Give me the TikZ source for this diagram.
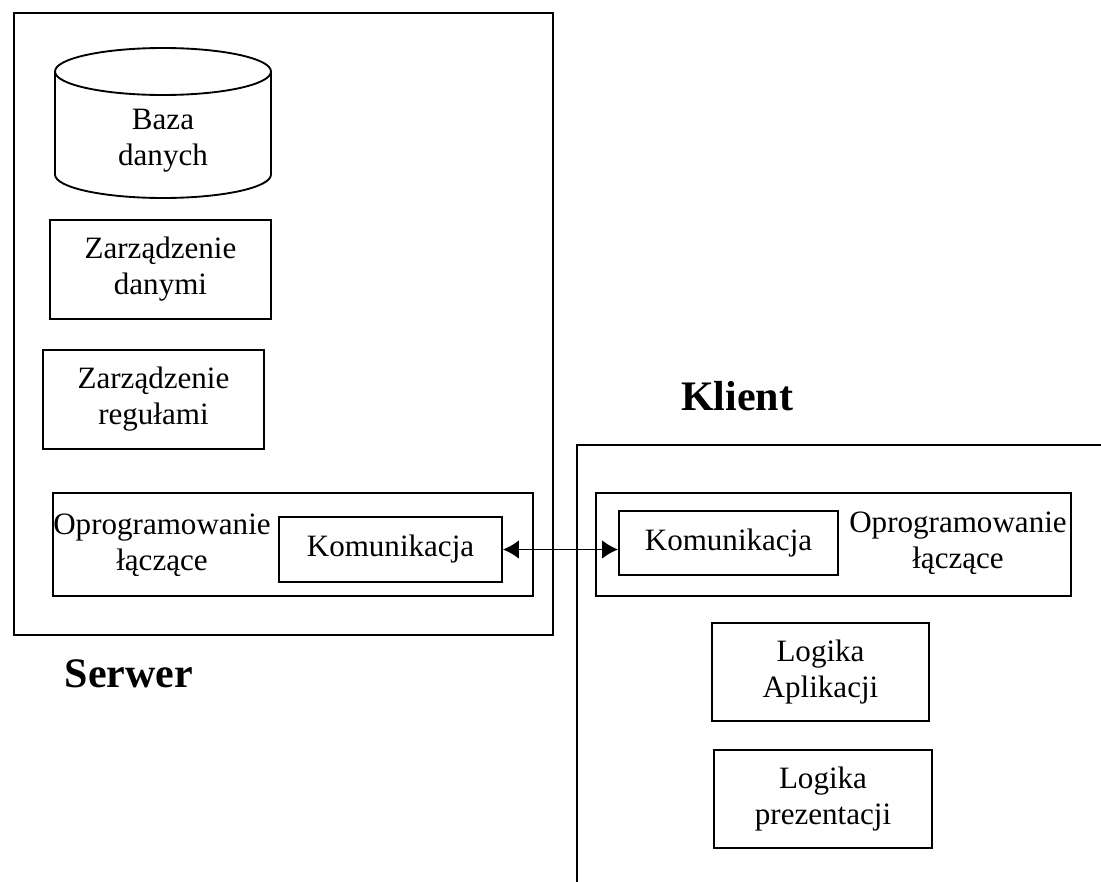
\documentclass[tikz,border=0pt]{standalone}
\usepackage{fontspec}
\setmainfont{Liberation Serif}
\usetikzlibrary{arrows.meta}

\begin{document}
\begin{tikzpicture}[
        x=0.75pt, y=-0.75pt, % 1 jednostka = 1 piksel obrazu
        line width=1.4pt,
        >={Latex[length=12pt,width=14pt]},
        blok/.style={draw, rectangle, inner sep=0pt, align=center,
            font=\fontsize{23.3}{27}\selectfont}, % Prostokaty z tekstem
        ramka/.style={draw, rectangle, inner sep=0pt},
        opis/.style={align=center, inner sep=0pt, font=\fontsize{23.3}{27}\selectfont},
        napis/.style={font=\fontsize{31.5}{36}\selectfont\bfseries, inner sep=0pt},
    ]
    \useasboundingbox (0,0) rectangle (1101,882);

    % Serwer
    \node[ramka, minimum width=539*0.75pt, minimum height=622*0.75pt] (serwer) at (283.5,324) {};
    % baza danych - walec
    \draw (163,71.5) ellipse [x radius=108, y radius=23.5];
    \draw (55,71.5) -- (55,174.5) arc[start angle=180, end angle=0, x radius=108, y radius=23.5] -- (271,71.5);
    \node[opis] (dane) at (163,141) {Baza\\danych};
    \node[blok, minimum width=221*0.75pt, minimum height=99*0.75pt] (zdane) at (160.5,269.5) {Zarządzenie\\danymi};
    \node[blok, minimum width=221*0.75pt, minimum height=99*0.75pt] (zreg) at (153.5,399.5) {Zarządzenie\\regułami};
    \node[ramka, minimum width=480*0.75pt, minimum height=103*0.75pt] (oprS) at (293,544.5) {};
    \node[opis] (oprStekst) at (162,545) {Oprogramowanie\\łączące};
    \node[blok, minimum width=223*0.75pt, minimum height=65*0.75pt] (komS) at (390.5,549.5) {Komunikacja};
    \node[napis, anchor=base] (serwerOpis) at (129,687) {Serwer};

    % Klient
    \draw (1101,445) -| (577,882);
    \node[ramka, minimum width=475*0.75pt, minimum height=103*0.75pt] (oprK) at (833.5,544.5) {};
    \node[blok, minimum width=219*0.75pt, minimum height=64*0.75pt] (komK) at (728.5,543) {Komunikacja};
    \node[opis] (oprKtekst) at (958,543) {Oprogramowanie\\łączące};
    \node[blok, minimum width=217*0.75pt, minimum height=98*0.75pt] (logA) at (820.5,672) {Logika\\Aplikacji};
    \node[blok, minimum width=218*0.75pt, minimum height=98*0.75pt] (logP) at (823,799) {Logika\\prezentacji};
    \node[napis, anchor=base] (klientOpis) at (737,410) {Klient};

    \draw[<->] (komS.east) -- (komS.east -| komK.west);
\end{tikzpicture}
\end{document}
